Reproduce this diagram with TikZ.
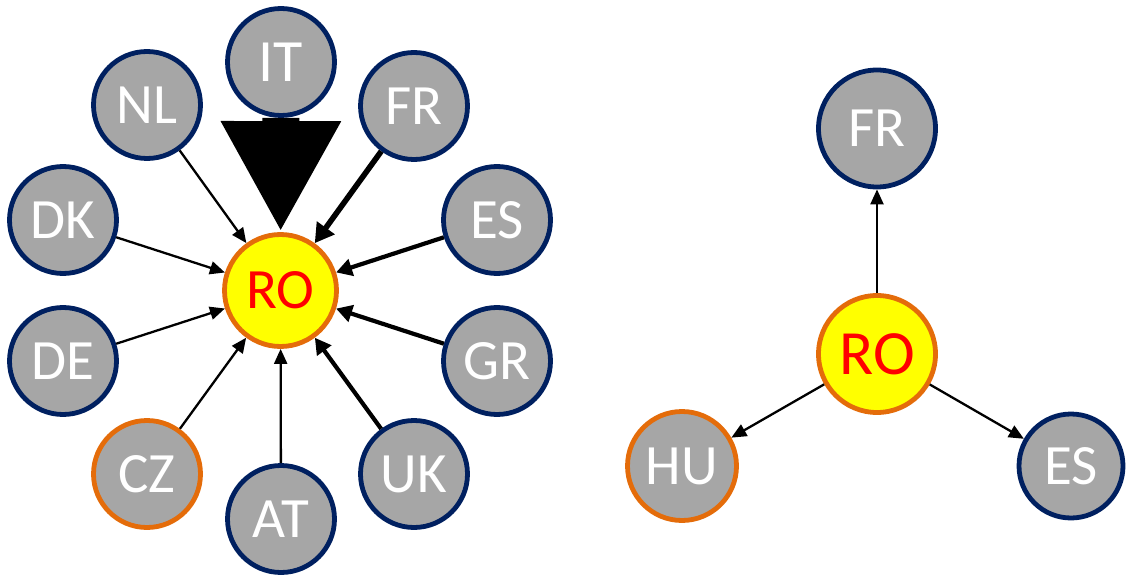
\documentclass[tikz,border=0pt]{standalone}
\usepackage{fontspec}
\setmainfont{Carlito}
\usetikzlibrary{arrows.meta}
\definecolor{ngray}{HTML}{A6A6A6}
\definecolor{navy}{HTML}{002060}
\definecolor{orng}{HTML}{E46C0A}
\definecolor{ylw}{HTML}{FFFF00}
\definecolor{rd}{HTML}{FF0000}
\tikzset{
  country/.style={circle, draw=navy, fill=ngray, line width=4.8pt, inner sep=0pt,
    minimum size=107pt, text=white, font=\fontsize{57}{57}\selectfont},
  orangeb/.style={draw=orng},
  hub/.style={circle, draw=orng, fill=ylw, line width=4.8pt, inner sep=0pt,
    minimum size=112pt, text=rd, font=\fontsize{57}{57}\selectfont},
  thin/.style={line width=2.3pt, -{Triangle[length=15pt,width=13pt]}},
  mid/.style={line width=4.2pt, -{Triangle[length=16pt,width=17pt]}},
  heavy/.style={line width=5.6pt, -{Triangle[length=19pt,width=21pt]}},
  huge/.style={line width=37pt, -{Triangle[length=111pt,width=112pt]}},
}
\begin{document}
\begin{tikzpicture}[x=1pt,y=-1pt]
\useasboundingbox (0,0) rectangle (1126,577);
% left cluster
\node[hub] (RO) at (280.5,290.5) {RO};
\node[country, font=\fontsize{60}{60}\selectfont] (IT) at (281,62) {IT};
\node[country] (NL) at (147,105) {NL};
\node[country] (FR) at (414,106) {FR};
\node[country] (DK) at (63,220) {DK};
\node[country] (ES) at (497,220) {ES};
\node[country] (DE) at (63,361) {DE};
\node[country] (GR) at (497,361) {GR};
\node[country, orangeb] (CZ) at (147,474) {CZ};
\node[country] (AT) at (281,519) {AT};
\node[country] (UK) at (414,474) {UK};
\draw[huge] (IT) -- (RO);
\draw[thin] (NL) -- (RO);
\draw[heavy] (FR) -- (RO);
\draw[thin] (DK) -- (RO);
\draw[mid] (ES) -- (RO);
\draw[thin] (DE) -- (RO);
\draw[mid] (GR) -- (RO);
\draw[thin] (CZ) -- (RO);
\draw[thin] (AT) -- (RO);
\draw[mid] (UK) -- (RO);
% right cluster
\node[hub, minimum size=117pt, font=\fontsize{63}{63}\selectfont] (RO2) at (877,354) {RO};
\node[country, minimum size=117pt] (FR2) at (877,128.5) {FR};
\node[country, orangeb, minimum size=109pt] (HU) at (682,466) {HU};
\node[country, minimum size=104pt] (ES2) at (1071,466) {ES};
\draw[thin] (RO2) -- (FR2);
\draw[thin] (RO2) -- (HU);
\draw[thin] (RO2) -- (ES2);
\end{tikzpicture}
\end{document}
